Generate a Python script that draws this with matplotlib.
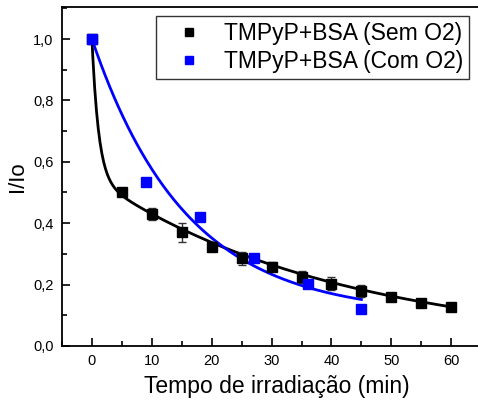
import matplotlib
matplotlib.use("Agg")
import matplotlib.pyplot as plt
import numpy as np
from matplotlib.ticker import MultipleLocator
from matplotlib.lines import Line2D

plt.rcParams['font.family'] = ['Liberation Sans', 'DejaVu Sans']

# Dados (I/Io vs tempo de irradiacao)
t_sem = [0, 5, 10, 15, 20, 25, 30, 35, 40, 45, 50, 55, 60]
y_sem = [1.0, 0.50, 0.43, 0.37, 0.323, 0.285, 0.258, 0.225, 0.203, 0.178, 0.159, 0.141, 0.127]
err_sem = [0.0, 0.006, 0.02, 0.03, 0.015, 0.02, 0.015, 0.02, 0.02, 0.02, 0.012, 0.01, 0.006]

t_com = [0, 9, 18, 27, 36, 45]
y_com = [1.0, 0.535, 0.42, 0.288, 0.203, 0.12]

# parametros dos ajustes exponenciais
fit_sem = [0.0, 0.451, 1.1, 0.549, 41.0]   # y0, A1, t1, A2, t2
fit_com = [0.1, 0.9, 15.7]                 # y0, A1, t1

fig = plt.figure(figsize=(4.78, 4.05), dpi=100)
ax = fig.add_axes([0.1297, 0.146, 0.90, 0.837])

xs = np.linspace(0, 60, 400)
y0, a1, t1, a2, t2 = fit_sem
ax.plot(xs, y0 + a1*np.exp(-xs/t1) + a2*np.exp(-xs/t2), color='black', lw=2, zorder=2)
xc = np.linspace(0, 45, 300)
b0, b1, bt = fit_com
ax.plot(xc, b0 + b1*np.exp(-xc/bt), color='#0000ff', lw=2, zorder=2)

ax.errorbar(t_sem, y_sem, yerr=err_sem, fmt='s', color='black', ms=7,
            ecolor='#333333', elinewidth=1, capsize=3, zorder=3)
ax.plot(t_com, y_com, 's', color='#0000ff', ms=7, zorder=4)

x_right = -5 + 70 * 0.90 / 0.877
ax.set_xlim(-5, x_right)
ax.set_ylim(0, 1.105)
ax.xaxis.set_minor_locator(MultipleLocator(5))
ax.yaxis.set_minor_locator(MultipleLocator(0.1))
yt = np.arange(0, 1.01, 0.2)
ax.set_yticks(yt)
ax.set_yticklabels([f'{v:.1f}'.replace('.', ',') for v in yt])
xt = np.arange(0, 61, 10)
ax.set_xticks(xt)
ax.tick_params(which='major', direction='in', length=6, width=1.2, labelsize=10.5, pad=6)
ax.tick_params(which='minor', direction='in', length=3.5, width=1.2)
for s in ax.spines.values():
    s.set_linewidth(1.3)

ax.set_xlabel('Tempo de irradiação (min)', fontsize=16.5, labelpad=5)
ax.set_ylabel('I/Io', fontsize=16, labelpad=4)

handles = [Line2D([], [], ls='none', marker='s', color='black', ms=6),
           Line2D([], [], ls='none', marker='s', color='#0000ff', ms=6)]
labels = ['TMPyP+BSA (Sem O2)', 'TMPyP+BSA (Com O2)']
leg = ax.legend(handles, labels, loc='upper right', bbox_to_anchor=(469/478, 1 - 16/405),
                bbox_transform=fig.transFigure, fontsize=16.5, frameon=True, fancybox=False,
                edgecolor='black', handlelength=2.3, handletextpad=0.4, borderpad=0.25,
                labelspacing=0.22, borderaxespad=0)
leg.get_frame().set_linewidth(1)

fig.savefig('out.png', dpi=100)
